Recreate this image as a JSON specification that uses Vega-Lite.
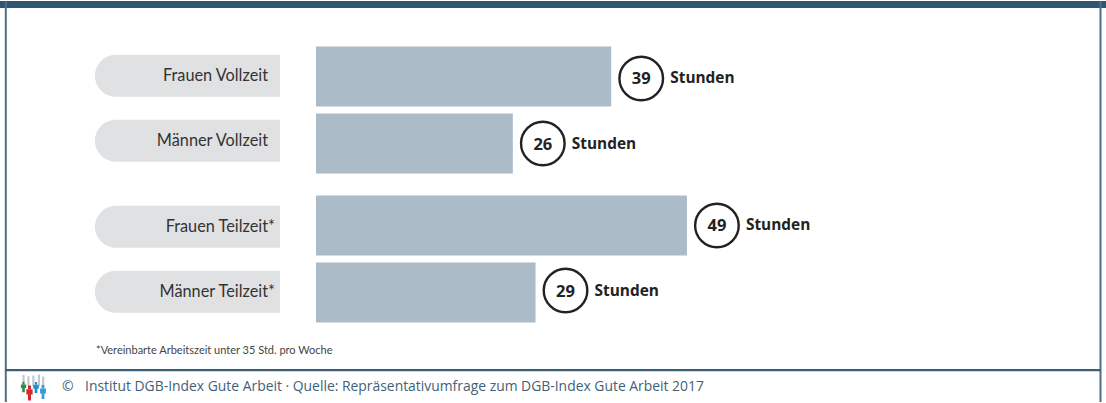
{
"$schema":"https://vega.github.io/schema/vega-lite/v6.json",
"width":1106,"height":403,"padding":0,
"autosize":{"type":"fit","contains":"padding"},
"background":"white",
"config":{"view":{"stroke":null}},
"data":{"values":[
{"Kategorie":"Frauen Vollzeit","Arbeitsform":"Vollzeit","Geschlecht":"Frauen","Stunden":39},
{"Kategorie":"Männer Vollzeit","Arbeitsform":"Vollzeit","Geschlecht":"Männer","Stunden":26},
{"Kategorie":"Frauen Teilzeit*","Arbeitsform":"Teilzeit","Geschlecht":"Frauen","Stunden":49},
{"Kategorie":"Männer Teilzeit*","Arbeitsform":"Teilzeit","Geschlecht":"Männer","Stunden":29}
]},
"resolve":{"scale":{"x":"independent","y":"independent","yOffset":"independent"}},
"layer":[
{"data":{"values":[{"Element":"Rahmen"}]},"layer":[
 {"mark":{"type":"rect","color":"#2f5570"},"encoding":{"x":{"datum":0,"type":"quantitative","scale":{"domain":[0,1106],"nice":false},"axis":null},"x2":{"datum":1106},"y":{"datum":0,"type":"quantitative","scale":{"domain":[403,0],"nice":false,"zero":false},"axis":null},"y2":{"datum":7}}},
 {"mark":{"type":"rule","color":"#4f6f88","strokeWidth":2},"encoding":{"x":{"datum":5.8,"type":"quantitative"},"y":{"datum":0,"type":"quantitative"},"y2":{"datum":403}}},
 {"mark":{"type":"rule","color":"#4f6f88","strokeWidth":2},"encoding":{"x":{"datum":1100.5,"type":"quantitative"},"y":{"datum":0,"type":"quantitative"},"y2":{"datum":403}}},
 {"mark":{"type":"rule","color":"#3a5f78","strokeWidth":2.2},"encoding":{"x":{"datum":5,"type":"quantitative"},"x2":{"datum":1101},"y":{"datum":371,"type":"quantitative"}}},
 {"mark":{"type":"text","text":"*Vereinbarte Arbeitszeit unter 35 Std. pro Woche","align":"left","baseline":"middle","font":"Lato","fontSize":11,"color":"#444444"},"encoding":{"x":{"datum":96,"type":"quantitative"},"y":{"datum":352,"type":"quantitative"}}},
 {"mark":{"type":"text","text":"©","align":"left","baseline":"middle","font":"Open Sans","fontSize":13.9,"color":"#3f6179"},"encoding":{"x":{"datum":62,"type":"quantitative"},"y":{"datum":388,"type":"quantitative"}}},
 {"mark":{"type":"text","text":"Institut DGB-Index Gute Arbeit  ·  Quelle: Repräsentativumfrage zum DGB-Index Gute Arbeit 2017","align":"left","baseline":"middle","font":"Open Sans","fontSize":13.9,"color":"#3f6179"},"encoding":{"x":{"datum":85,"type":"quantitative"},"y":{"datum":388,"type":"quantitative"}}},
 {"mark":{"type":"point","filled":true,"color":"#c3c7cc","size":196,"opacity":1,"shape":"M-1.5,-1H-1.2V0.6H-1.5ZM-0.8,-0.85H-0.5V0.6H-0.8ZM-0.1,-0.95H0.2V0.6H-0.1ZM0.7,-1.1H1V0.6H0.7ZM1.3,-0.8H1.6V0.6H1.3Z"},"encoding":{"x":{"datum":33,"type":"quantitative"},"y":{"datum":383,"type":"quantitative"}}},
 {"mark":{"type":"point","filled":true,"color":"#2e8b45","opacity":1,"size":110,"shape":"M-0.2,-1H0.2V-0.55H-0.2ZM-0.5,-0.5H0.5V0.2H0.25V1H-0.25V0.2H-0.5Z"},"encoding":{"x":{"datum":23.5,"type":"quantitative"},"y":{"datum":388,"type":"quantitative"}}},
 {"mark":{"type":"point","filled":true,"color":"#d8262c","opacity":1,"size":225,"shape":"M-0.2,-1H0.2V-0.55H-0.2ZM-0.42,-0.5H0.42V0.2H0.2V1H-0.2V0.2H-0.42Z"},"encoding":{"x":{"datum":29.5,"type":"quantitative"},"y":{"datum":394,"type":"quantitative"}}},
 {"mark":{"type":"point","filled":true,"color":"#1f8fd0","opacity":1,"size":121,"shape":"M-0.2,-1H0.2V-0.55H-0.2ZM-0.5,-0.5H0.5V0.2H0.25V1H-0.25V0.2H-0.5Z"},"encoding":{"x":{"datum":36,"type":"quantitative"},"y":{"datum":388.5,"type":"quantitative"}}},
 {"mark":{"type":"point","filled":true,"color":"#3a9bd5","opacity":1,"size":196,"shape":"M-0.2,-1H0.2V-0.55H-0.2ZM-0.42,-0.5H0.42V0.2H0.2V1H-0.2V0.2H-0.42Z"},"encoding":{"x":{"datum":43,"type":"quantitative"},"y":{"datum":393,"type":"quantitative"}}}
]},
{"encoding":{
 "y":{"field":"Arbeitsform","type":"nominal","sort":["Vollzeit","Teilzeit"],"axis":null,"scale":{"range":[31.8,333.8],"paddingInner":0,"paddingOuter":0,"round":false}},
 "yOffset":{"field":"Geschlecht","type":"nominal","sort":["Frauen","Männer"],"scale":{"type":"band","paddingInner":0,"paddingOuter":0.1615,"round":false}}
 },
 "layer":[
 {"mark":{"type":"bar","color":"#e0e1e3","height":42,"cornerRadiusTopLeft":21,"cornerRadiusBottomLeft":21},"encoding":{"x":{"datum":-29.2,"type":"quantitative","scale":{"domain":[-41.744,104.36],"nice":false,"zero":false},"axis":null},"x2":{"datum":-4.76}}},
 {"mark":{"type":"text","align":"right","baseline":"middle","font":"Lato","fontSize":16.3,"color":"#333333","dx":{"expr":"datum.Arbeitsform==='Teilzeit'?7:0"}},"encoding":{"x":{"datum":-6.34,"type":"quantitative"},"text":{"field":"Kategorie"}}}
 ]},
{"layer":[
 {"mark":{"type":"bar","color":"#abbbc8"},"encoding":{
  "x":{"field":"Stunden","type":"quantitative","stack":null,"scale":{"domain":[-41.744,104.36],"nice":false,"zero":false},"axis":null},
  "x2":{"datum":0},
  "y":{"field":"Arbeitsform","type":"nominal","sort":["Vollzeit","Teilzeit"],"axis":null,"scale":{"range":[45.4,321.4],"paddingInner":0.1477,"paddingOuter":0,"round":false}},
  "yOffset":{"field":"Geschlecht","type":"nominal","sort":["Frauen","Männer"],"scale":{"paddingInner":0.1045,"paddingOuter":0,"round":false}}
 }}
]},
{"encoding":{
 "x":{"field":"Stunden","type":"quantitative","scale":{"domain":[-41.744,104.36],"nice":false,"zero":false},"axis":null},
 "y":{"field":"Arbeitsform","type":"nominal","sort":["Vollzeit","Teilzeit"],"axis":null,"scale":{"range":[36.5,330.5],"paddingInner":0,"paddingOuter":0,"round":false}},
 "yOffset":{"field":"Geschlecht","type":"nominal","sort":["Frauen","Männer"],"scale":{"type":"band","paddingInner":0,"paddingOuter":0.13,"round":false}}
 },
 "layer":[
 {"mark":{"type":"point","filled":false,"stroke":"#222222","strokeWidth":2.4,"size":1900,"opacity":1,"xOffset":30}},
 {"mark":{"type":"text","align":"center","baseline":"middle","font":"Open Sans","fontWeight":"bold","fontSize":16.5,"color":"#222222","dx":30,"dy":1},"encoding":{"text":{"field":"Stunden"}}},
 {"mark":{"type":"text","align":"left","baseline":"middle","font":"Open Sans","fontWeight":"bold","fontSize":15.4,"color":"#222222","dx":59},"encoding":{"text":{"value":"Stunden"}}}
 ]}
]
}
